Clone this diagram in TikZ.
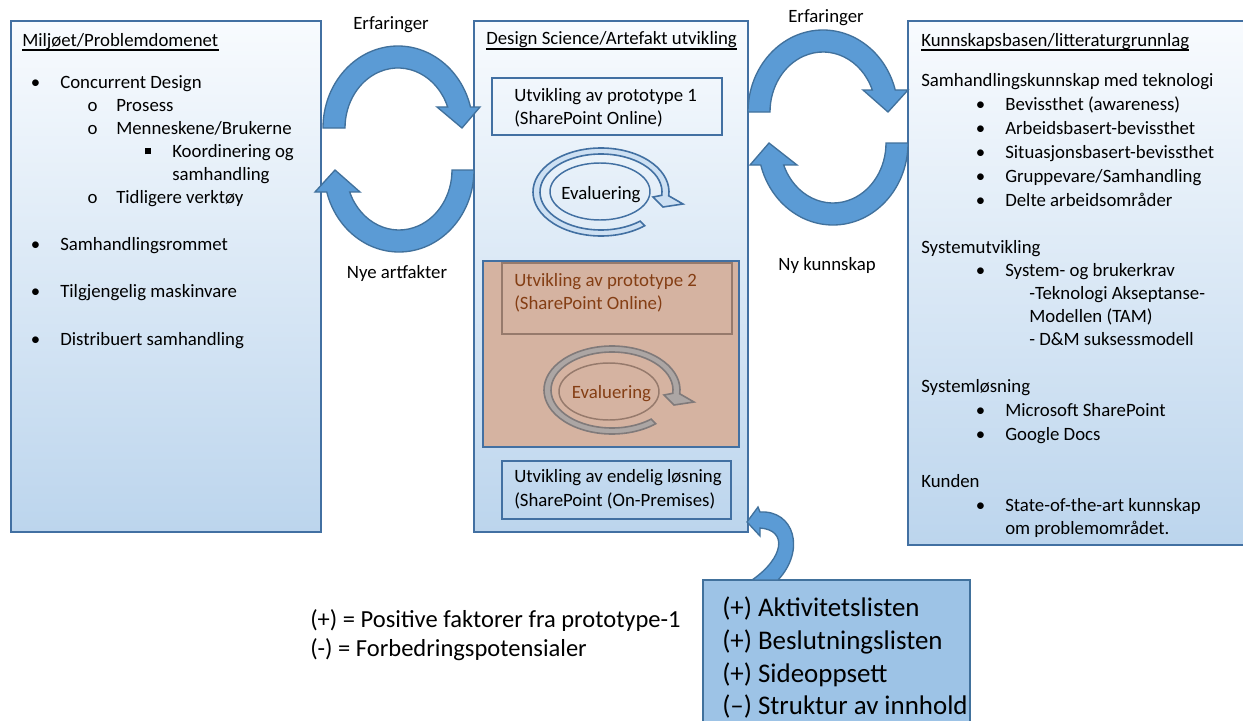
\documentclass[tikz,border=0pt]{standalone}
\usepackage{fontspec}
\setmainfont{Carlito}
\usetikzlibrary{fit,shapes.geometric}

\definecolor{boxline}{RGB}{66,112,162}
\definecolor{arrowfill}{RGB}{91,155,213}
\definecolor{arrowline}{RGB}{65,113,156}
\definecolor{panelTop}{RGB}{248,251,254}
\definecolor{panelBot}{RGB}{188,213,237}
\definecolor{brownfill}{RGB}{213,179,161}
\definecolor{brownline}{RGB}{150,122,108}
\definecolor{browntext}{RGB}{132,62,20}
\definecolor{ringfill}{RGB}{205,224,243}
\definecolor{greyline}{RGB}{128,122,122}
\definecolor{greyfill}{RGB}{172,166,164}
\definecolor{factfill}{RGB}{157,195,230}

\newcommand\fsmain{\fontsize{14.1pt}{17pt}\selectfont}
\newcommand\fslegend{\fontsize{18.4pt}{22pt}\selectfont}
\newcommand\fsfact{\fontsize{20.2pt}{24pt}\selectfont}

\tikzset{
  panel/.style={draw=boxline, line width=1.5pt, top color=panelTop, bottom color=panelBot, inner sep=0pt},
  frame/.style={draw=boxline, line width=1.2pt, inner sep=0pt},
  txt/.style={anchor=base west, inner sep=0pt, font=\fsmain},
  ctxt/.style={anchor=base, inner sep=0pt, font=\fsmain},
  dot/.style={anchor=base, inner sep=0pt, font=\fsmain},
  ul/.style={line width=0.8pt, black},
  bigarrow/.style={fill=arrowfill, draw=arrowline, line width=1pt},
  ringblue/.style={fill=ringfill, draw=boxline, line width=1.2pt},
  ringgrey/.style={fill=greyfill, draw=greyline, line width=1.2pt},
}

\begin{document}
\begin{tikzpicture}[x=0.75pt,y=-0.75pt]
\useasboundingbox (0,0) rectangle (1243,721);
\clip (0,0) rectangle (1243,721);
\fill[white] (0,0) rectangle (1243,721);

% ---------- three main panels ----------
\node[panel, fit={(11,21) (321,532)}] (env) {};
\node[panel, fit={(474,21) (748,532)}] (ds) {};
\node[panel, fit={(908,21) (1256,545)}] (kb) {};

% ---------- left panel: environment / problem domain ----------
\node[txt] (envt) at (22,46) {Miljøet/Problemdomenet};
\draw[ul] ([yshift=-3pt]envt.base west) -- ([yshift=-3pt]envt.base east);
\node[dot] (eb1) at (35.5,88) {•};
\node[txt] (e1) at (60,88) {Concurrent Design};
\node[dot] (eo1) at (92.5,111) {o};
\node[txt] (e2) at (116,111) {Prosess};
\node[dot] (eo2) at (92.5,134) {o};
\node[txt] (e3) at (116,134) {Menneskene/Brukerne};
\node[dot] (es1) at (148,157) {\raisebox{2pt}{\rule{4.5pt}{4.5pt}}};
\node[txt] (e4) at (172,157) {Koordinering og};
\node[txt] (e5) at (172,180.5) {samhandling};
\node[dot] (eo3) at (92.5,203.5) {o};
\node[txt] (e6) at (116,203.5) {Tidligere verktøy};
\node[dot] (eb2) at (35.5,250.5) {•};
\node[txt] (e7) at (60,250.5) {Samhandlingsrommet};
\node[dot] (eb3) at (35.5,297.5) {•};
\node[txt] (e8) at (60,297.5) {Tilgjengelig maskinvare};
\node[dot] (eb4) at (35.5,345) {•};
\node[txt] (e9) at (60,345) {Distribuert samhandling};

% ---------- centre panel: design science ----------
\node[txt] (dst) at (486,45) {Design Science/Artefakt utvikling};
\draw[ul] ([yshift=-3pt]dst.base west) -- ([yshift=-3pt]dst.base east);

\node[frame, fit={(492,78) (722,135)}] (p1) {};
\node[txt] (p1a) at (514,101) {Utvikling av prototype 1};
\node[txt] (p1b) at (514,124) {(SharePoint Online)};

\begin{scope}[shift={(601,192)}]
  \filldraw[ringblue] (50:68 and 44) arc[start angle=50,end angle=365,x radius=68,y radius=44]
    -- (82,12) -- (62,15) -- (52,5) -- (365:61 and 38)
    arc[start angle=365,end angle=50,x radius=61,y radius=38] -- cycle;
\end{scope}
\node[ellipse, draw=boxline, line width=1.1pt, inner sep=0pt, minimum width=75pt, minimum height=42.75pt] (ev1) at (600,191.5) {};
\node[ctxt] (ev1t) at (601,199.5) {Evaluering};

\node[frame, line width=1.5pt, fill=brownfill, fit={(483,261) (739,447)}] (p2) {};
\node[draw=brownline, line width=1.2pt, fill=brownfill, inner sep=0pt, fit={(502,263) (732,334)}] (p2h) {};
\node[txt, text=browntext] (p2a) at (514,286) {Utvikling av prototype 2};
\node[txt, text=browntext] (p2b) at (514,309) {(SharePoint Online)};

\begin{scope}[shift={(612,390)}]
  \filldraw[ringgrey] (50:68 and 44) arc[start angle=50,end angle=365,x radius=68,y radius=44]
    -- (82,12) -- (62,15) -- (52,5) -- (365:61 and 38)
    arc[start angle=365,end angle=50,x radius=61,y radius=38] -- cycle;
\end{scope}
\node[ellipse, draw=brownline, line width=1.1pt, inner sep=0pt, minimum width=75pt, minimum height=42.75pt] (ev2) at (609,391.5) {};
\node[ctxt, text=browntext] (ev2t) at (611.5,398.5) {Evaluering};

\node[frame, fit={(502,461) (731,519)}] (fin) {};
\node[txt] (fina) at (514,482.5) {Utvikling av endelig løsning};
\node[txt] (finb) at (514,506) {(SharePoint (On-Premises)};

% ---------- right panel: knowledge base ----------
\node[txt] (kbt) at (921,46) {Kunnskapsbasen/litteraturgrunnlag};
\draw[ul] ([yshift=-3pt]kbt.base west) -- ([yshift=-3pt]kbt.base east);
\node[txt] (k1) at (921,86.5) {Samhandlingskunnskap med teknologi};
\node[dot] (kb1) at (980.5,110.5) {•};
\node[txt] (k2) at (1005,110.5) {Bevissthet (awareness)};
\node[dot] (kb2) at (980.5,134.5) {•};
\node[txt] (k3) at (1005,134.5) {Arbeidsbasert-bevissthet};
\node[dot] (kb3) at (980.5,158.5) {•};
\node[txt] (k4) at (1005,158.5) {Situasjonsbasert-bevissthet};
\node[dot] (kb4) at (980.5,182.5) {•};
\node[txt] (k5) at (1005,182.5) {Gruppevare/Samhandling};
\node[dot] (kb5) at (980.5,206.5) {•};
\node[txt] (k6) at (1005,206.5) {Delte arbeidsområder};
\node[txt] (k7) at (921,253.5) {Systemutvikling};
\node[dot] (kb6) at (980.5,276.5) {•};
\node[txt] (k8) at (1005,276.5) {System- og brukerkrav};
\node[txt] (k9) at (1029,299.5) {-Teknologi Akseptanse-};
\node[txt] (k10) at (1029,322.5) {Modellen (TAM)};
\node[txt] (k11) at (1029,345.5) {- D\&M suksessmodell};
\node[txt] (k12) at (921,392.5) {Systemløsning};
\node[dot] (kb7) at (980.5,416.5) {•};
\node[txt] (k13) at (1005,416.5) {Microsoft SharePoint};
\node[dot] (kb8) at (980.5,440.5) {•};
\node[txt] (k14) at (1005,440.5) {Google Docs};
\node[txt] (k15) at (921,487.5) {Kunden};
\node[dot] (kb9) at (980.5,511.5) {•};
\node[txt] (k16) at (1005,511.5) {State-of-the-art kunnskap};
\node[txt] (k17) at (1005,534.5) {om problemområdet.};

% ---------- circular arrows between panels ----------
\filldraw[bigarrow] ([shift={(398,128)}]180:75 and 82) arc[start angle=180,end angle=345.2,x radius=75,y radius=82]
  -- (480,107) -- (462,128) -- (437,107) -- ([shift={(398,128)}]339.5:53 and 60)
  arc[start angle=339.5,end angle=180,x radius=53,y radius=60] -- cycle;
\filldraw[bigarrow] ([shift={(399,170)}]0:75 and 82) arc[start angle=0,end angle=164.4,x radius=75,y radius=82]
  -- (315,192) -- (335,170) -- (360,192) -- ([shift={(399,170)}]158.5:53 and 60)
  arc[start angle=158.5,end angle=0,x radius=53,y radius=60] -- cycle;
\filldraw[bigarrow] ([shift={(823,112)}]180:75 and 82) arc[start angle=180,end angle=344.4,x radius=75,y radius=82]
  -- (908,90) -- (888,112) -- (863,90) -- ([shift={(823,112)}]338.5:53 and 60)
  arc[start angle=338.5,end angle=180,x radius=53,y radius=60] -- cycle;
\filldraw[bigarrow] ([shift={(833,143)}]0:75 and 82) arc[start angle=0,end angle=164.4,x radius=75,y radius=82]
  -- (750,165) -- (769,143) -- (797,165) -- ([shift={(833,143)}]158.5:53 and 60)
  arc[start angle=158.5,end angle=0,x radius=53,y radius=60] -- cycle;

\node[ctxt] (erf1) at (391,30) {Erfaringer};
\node[ctxt] (nye) at (397,278) {Nye artfakter};
\node[ctxt] (erf2) at (826,22) {Erfaringer};
\node[ctxt] (nyk) at (827,270) {Ny kunnskap};

% ---------- findings from prototype 1 ----------
\node[draw=arrowline, line width=1.5pt, fill=factfill, inner sep=0pt, fit={(703,580) (970,745)}] (fac) {};
\node[anchor=base west, inner sep=0pt, font=\fsfact] (f1) at (722,616) {(+) Aktivitetslisten};
\node[anchor=base west, inner sep=0pt, font=\fsfact] (f2) at (722,649) {(+) Beslutningslisten};
\node[anchor=base west, inner sep=0pt, font=\fsfact] (f3) at (722,682) {(+) Sideoppsett};
\node[anchor=base west, inner sep=0pt, font=\fsfact] (f4) at (722,714) {(–) Struktur av innhold};

\coordinate (tailL) at (752,580);
\coordinate (tailR) at (778,580);
\coordinate (tip) at (747,522);
\filldraw[bigarrow] (760,512) .. controls (794,510) and (806,550) .. (tailR) -- (tailL)
  .. controls (784,558) and (788,530) .. (760,528) -- (760,536) -- (tip) -- (758,507) -- cycle;

\node[anchor=base west, inner sep=0pt, font=\fslegend] (lg1) at (310,627) {(+) = Positive faktorer fra prototype-1};
\node[anchor=base west, inner sep=0pt, font=\fslegend] (lg2) at (310,656) {(-) = Forbedringspotensialer};
\end{tikzpicture}
\end{document}
